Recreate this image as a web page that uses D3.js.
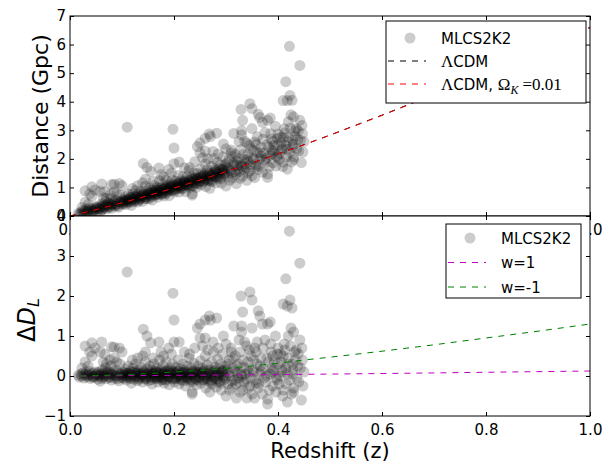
<!DOCTYPE html>
<html>
<head>
<meta charset="utf-8">
<script src="https://cdn.jsdelivr.net/npm/d3@7"></script>
<style>
  body { margin: 0; background: #fff; }
  svg text { font-family: "DejaVu Sans", sans-serif; fill: #000; }
</style>
</head>
<body>
<svg id="chart" width="611" height="462"></svg>
<script>
// supernovae: [redshift, distance (Gpc), residual vs LCDM (Gpc)]
const snData = [
  [0.016,0.09,0.02],[0.018,0.05,-0.03],[0.021,0.14,0.05],[0.023,0.10,0.00],[0.025,0.19,0.08],[0.027,0.07,-0.05],
  [0.029,0.16,0.03],[0.031,0.24,0.10],[0.033,0.13,-0.02],[0.035,0.20,0.04],[0.037,0.28,0.12],[0.039,0.11,-0.06],
  [0.041,0.20,0.02],[0.043,0.26,0.07],[0.045,0.16,-0.04],[0.047,0.21,0.00],[0.049,0.32,0.10],
  [0.023,0.30,0.20],[0.029,0.48,0.35],[0.029,0.88,0.75],[0.042,1.02,0.83],[0.048,0.91,0.70],[0.042,0.69,0.50],
  [0.035,0.41,0.25],[0.038,0.77,0.60],[0.058,0.86,0.60],[0.061,1.12,0.85],[0.067,0.85,0.55],[0.064,0.64,0.35],
  [0.080,1.10,0.73],[0.085,1.11,0.72],[0.095,1.14,0.70],[0.100,1.06,0.60],[0.077,0.75,0.40],[0.120,0.96,0.40],
  [0.130,1.06,0.45],[0.140,1.16,0.50],[0.145,1.29,0.60],[0.155,1.57,0.83],[0.148,1.70,1.00],[0.141,1.84,1.17],
  [0.171,1.68,0.85],[0.110,3.11,2.60],[0.198,3.04,2.07],[0.200,2.38,1.40],[0.200,1.83,0.85],[0.210,1.89,0.85],
  [0.190,1.63,0.70],[0.175,1.45,0.60],[0.070,0.62,0.30],[0.090,0.76,0.35],[0.085,0.84,0.45],
  [0.051,0.26,0.03],[0.053,0.16,-0.08],[0.055,0.35,0.10],[0.056,0.25,0.00],[0.058,0.13,-0.13],[0.060,0.32,0.05],
  [0.062,0.43,0.15],[0.063,0.25,-0.03],[0.065,0.37,0.08],[0.067,0.30,0.00],[0.068,0.51,0.20],[0.070,0.25,-0.07],
  [0.072,0.37,0.04],[0.074,0.46,0.12],[0.075,0.32,-0.02],[0.077,0.41,0.06],[0.079,0.61,0.25],[0.080,0.27,-0.10],
  [0.082,0.39,0.02],[0.084,0.48,0.10],[0.086,0.34,-0.05],[0.088,0.55,0.15],[0.090,0.41,0.00],[0.092,0.50,0.08],
  [0.094,0.31,-0.12],[0.096,0.74,0.30],[0.098,0.50,0.05],[0.099,0.42,-0.04],
  [0.101,0.57,0.10],[0.103,0.42,-0.06],[0.105,0.51,0.02],[0.107,0.68,0.18],[0.108,0.40,-0.10],[0.110,0.57,0.06],
  [0.112,0.77,0.25],[0.114,0.51,-0.02],[0.116,0.66,0.12],[0.118,0.37,-0.18],[0.120,0.60,0.04],[0.121,0.77,0.20],
  [0.123,0.50,-0.08],[0.125,0.69,0.10],[0.126,0.89,0.30],[0.128,0.60,0.00],[0.130,0.49,-0.12],[0.131,0.77,0.15],
  [0.133,0.68,0.05],[0.135,0.59,-0.05],[0.136,0.86,0.22],[0.138,0.73,0.08],[0.140,0.51,-0.15],[0.141,0.79,0.12],
  [0.143,0.68,0.00],[0.145,1.04,0.35],[0.146,0.61,-0.08],[0.148,0.88,0.18],[0.149,0.76,0.05],
  [0.151,0.60,-0.12],[0.152,0.82,0.10],[0.154,0.98,0.25],[0.155,0.71,-0.03],[0.157,0.90,0.15],[0.158,0.56,-0.20],
  [0.160,0.82,0.05],[0.161,1.07,0.30],[0.163,0.72,-0.06],[0.164,0.91,0.12],[0.166,0.80,0.00],[0.167,1.00,0.20],
  [0.169,0.66,-0.15],[0.170,0.90,0.08],[0.172,1.23,0.40],[0.173,0.82,-0.02],[0.175,1.00,0.15],[0.176,0.75,-0.10],
  [0.178,0.91,0.05],[0.179,1.12,0.25],[0.181,0.70,-0.18],[0.182,0.98,0.10],[0.184,0.89,0.00],[0.185,1.25,0.35],
  [0.187,0.83,-0.08],[0.188,1.06,0.14],[0.190,0.97,0.04],[0.191,0.71,-0.22],[0.193,1.14,0.20],[0.194,1.03,0.08],
  [0.196,0.91,-0.05],[0.197,1.26,0.30],[0.199,1.10,0.12],
  [0.201,0.84,-0.15],[0.202,1.04,0.05],[0.204,1.22,0.22],[0.205,0.96,-0.05],[0.207,1.14,0.12],[0.208,1.42,0.40],
  [0.210,0.84,-0.20],[0.211,1.06,0.02],[0.213,1.23,0.18],[0.214,0.96,-0.10],[0.216,1.15,0.08],[0.217,1.38,0.30],
  [0.219,1.06,-0.03],[0.220,1.24,0.15],[0.222,0.85,-0.25],[0.223,1.16,0.05],[0.225,1.37,0.25],[0.226,1.05,-0.08],
  [0.228,1.24,0.10],[0.229,1.59,0.45],[0.231,1.00,-0.15],[0.232,1.16,0.00],[0.234,1.37,0.20],[0.235,0.78,-0.40],
  [0.237,1.27,0.08],[0.238,1.51,0.32],[0.240,1.15,-0.05],[0.241,1.35,0.14],[0.243,1.00,-0.22],[0.244,1.28,0.05],
  [0.246,1.49,0.25],[0.247,1.14,-0.10],[0.249,1.35,0.10],
  [0.251,1.65,0.38],[0.252,1.09,-0.18],[0.254,1.30,0.02],[0.255,1.49,0.20],[0.257,1.22,-0.08],[0.258,1.43,0.12],
  [0.260,1.82,0.50],[0.261,1.03,-0.30],[0.263,1.39,0.05],[0.264,1.62,0.28],[0.266,1.23,-0.12],[0.267,1.51,0.15],
  [0.269,0.97,-0.40],[0.270,1.38,0.00],[0.272,1.74,0.35],[0.273,1.20,-0.20],[0.275,1.51,0.10],[0.276,2.01,0.60],
  [0.278,1.37,-0.05],[0.279,1.65,0.22],[0.281,1.16,-0.28],[0.282,1.53,0.08],[0.284,1.88,0.42],[0.285,1.32,-0.15],
  [0.287,1.66,0.18],[0.288,1.48,0.00],[0.290,1.79,0.30],[0.291,1.15,-0.35],[0.293,1.63,0.12],[0.294,2.07,0.55],
  [0.296,1.43,-0.10],[0.297,1.59,0.05],[0.299,1.80,0.25],
  [0.300,1.05,-0.50],[0.302,1.72,0.15],[0.304,1.38,-0.20],[0.306,1.99,0.40],[0.308,1.60,0.00],[0.310,2.31,0.70],
  [0.312,1.33,-0.30],[0.314,1.84,0.20],[0.316,1.55,-0.10],[0.318,2.16,0.50],[0.320,1.13,-0.55],[0.322,1.77,0.08],
  [0.324,2.00,0.30],[0.326,1.56,-0.15],[0.328,2.32,0.60],[0.330,1.74,0.00],[0.332,1.40,-0.35],[0.334,1.98,0.22],
  [0.336,2.62,0.85],[0.338,1.70,-0.08],[0.340,1.25,-0.55],[0.342,2.16,0.35],[0.344,1.92,0.10],[0.346,1.58,-0.25],
  [0.348,2.35,0.50],
  [0.350,1.41,-0.45],[0.352,2.02,0.15],[0.355,2.59,0.70],[0.357,1.80,-0.10],[0.360,2.22,0.30],[0.362,1.63,-0.30],
  [0.365,2.00,0.05],[0.367,2.41,0.45],[0.370,1.53,-0.45],[0.372,2.20,0.20],[0.375,2.92,0.90],[0.377,1.88,-0.15],
  [0.380,1.35,-0.70],[0.380,1.47,-0.58],[0.382,2.41,0.35],[0.385,2.13,0.05],[0.387,2.69,0.60],[0.390,1.86,-0.25],
  [0.392,2.27,0.15],[0.395,3.14,1.00],[0.397,2.10,-0.05],
  [0.400,2.47,0.30],[0.402,1.99,-0.20],[0.405,2.76,0.55],[0.408,2.32,0.10],[0.410,1.89,-0.35],[0.412,3.05,0.80],
  [0.415,2.47,0.20],[0.418,1.64,-0.65],[0.420,2.75,0.45],[0.422,2.22,-0.10],[0.425,3.54,1.20],[0.428,2.41,0.05],
  [0.430,2.07,-0.30],[0.430,1.97,-0.40],[0.432,2.98,0.60],[0.435,3.05,0.65],[0.438,2.67,0.25],[0.440,2.28,-0.15],
  [0.442,3.35,0.90],[0.445,1.87,-0.60],[0.447,2.88,0.40],[0.450,2.60,0.10],
  [0.422,5.94,3.62],[0.442,5.27,2.82],[0.415,4.70,2.43],[0.423,4.22,1.90],[0.410,4.04,1.80],[0.418,4.04,1.75],
  [0.427,4.05,1.70],[0.346,3.93,2.10],[0.329,3.73,2.00],[0.350,3.76,1.90],[0.332,3.35,1.60],[0.362,3.56,1.63],
  [0.365,3.45,1.50],[0.385,3.43,1.35],[0.380,3.35,1.30],[0.370,3.28,1.30],[0.350,3.06,1.20],[0.330,2.99,1.25],
  [0.315,2.89,1.25],[0.268,2.87,1.50],[0.270,2.78,1.40],[0.282,2.90,1.45],[0.260,2.72,1.40],[0.250,2.56,1.30],
  [0.245,2.43,1.20],[0.250,2.21,0.95],[0.260,2.27,0.95],[0.295,2.52,1.00],[0.330,2.84,1.10],[0.420,3.30,1.00],
  [0.430,3.47,1.10],[0.235,0.73,-0.45],[0.355,1.34,-0.55],
  [0.240,1.90,0.70],[0.255,2.04,0.75],[0.265,2.00,0.65],[0.275,2.26,0.85],[0.285,2.17,0.70],[0.300,2.35,0.80],
  [0.310,2.21,0.60],[0.325,2.61,0.90],[0.340,2.55,0.75],[0.360,2.77,0.85],[0.390,2.61,0.50],[0.400,2.87,0.70],
  [0.410,2.74,0.50],[0.220,1.69,0.60],[0.230,1.70,0.55],[0.180,1.37,0.50],[0.160,1.22,0.45],[0.195,1.50,0.55],
  [0.034,0.16,0.01],[0.044,0.18,-0.02],[0.052,0.29,0.06],[0.057,0.28,0.02],[0.061,0.21,-0.06],[0.066,0.33,0.03],
  [0.071,0.41,0.09],[0.076,0.31,-0.04],[0.081,0.42,0.05],[0.087,0.41,0.01],[0.091,0.35,-0.07],[0.097,0.49,0.04],
  [0.102,0.46,-0.01],[0.106,0.57,0.08],[0.111,0.47,-0.05],[0.115,0.57,0.03],[0.119,0.66,0.10],[0.124,0.55,-0.03],
  [0.127,0.66,0.06],[0.132,0.54,-0.08],[0.137,0.67,0.02],[0.142,0.76,0.09],[0.147,0.67,-0.03],[0.153,0.77,0.04],
  [0.156,0.66,-0.09],[0.159,0.83,0.07],[0.162,0.76,-0.02],[0.165,0.89,0.10],[0.168,0.75,-0.06],[0.171,0.85,0.02],
  [0.174,0.96,0.12],[0.177,0.82,-0.04],[0.180,0.93,0.06],[0.183,0.79,-0.10],[0.186,0.94,0.03],[0.189,1.01,0.09],
  [0.192,0.91,-0.03],[0.195,1.00,0.05],[0.198,0.89,-0.08],[0.203,1.08,0.08],[0.206,0.99,-0.02],[0.209,1.15,0.12],
  [0.212,0.99,-0.06],[0.215,1.10,0.04],[0.218,0.96,-0.12],[0.221,1.20,0.10],[0.224,1.11,0.00],[0.227,1.08,-0.05],
  [0.230,1.22,0.07],[0.233,1.07,-0.10],[0.236,1.30,0.12],[0.239,1.22,0.02],[0.242,1.14,-0.08],[0.245,1.31,0.08],
  [0.248,1.23,-0.02],[0.253,1.34,0.06],[0.256,1.20,-0.10],[0.259,1.46,0.15],[0.262,1.33,0.00],[0.265,1.29,-0.06],
  [0.268,1.47,0.10],[0.271,1.23,-0.15],[0.274,1.45,0.05],[0.277,1.40,-0.02],[0.280,1.59,0.15],[0.283,1.37,-0.08],
  [0.286,1.53,0.06],[0.289,1.37,-0.12],[0.292,1.61,0.10],[0.295,1.52,0.00],[0.298,1.49,-0.05],[0.305,1.66,0.08],
  [0.311,1.50,-0.12],[0.317,1.78,0.12],[0.323,1.64,-0.05],[0.329,1.78,0.05],[0.335,1.62,-0.15],[0.341,1.98,0.18],
  [0.347,1.79,-0.05],[0.353,1.98,0.10],[0.358,1.73,-0.18],[0.368,2.09,0.12],[0.378,2.03,0.00],[0.388,2.30,0.20],
  [0.398,2.06,-0.10],[0.408,2.37,0.15],[0.418,2.34,0.05],[0.428,2.66,0.30],
  [0.353,2.28,0.40],[0.358,2.51,0.60],[0.363,1.74,-0.20],[0.366,2.21,0.25],[0.371,2.69,0.70],[0.374,1.96,-0.05],
  [0.379,2.49,0.45],[0.383,1.72,-0.35],[0.386,2.88,0.80],[0.389,2.20,0.10],[0.393,2.48,0.35],[0.396,1.75,-0.40],
  [0.399,2.72,0.55],[0.403,2.19,0.00],[0.406,2.56,0.35],[0.409,1.73,-0.50],[0.413,2.91,0.65],[0.416,2.08,-0.20],
  [0.419,2.60,0.30],[0.424,3.08,0.75],[0.426,1.89,-0.45],[0.429,2.51,0.15],[0.433,2.79,0.40],[0.436,2.36,-0.05],
  [0.439,2.98,0.55],[0.443,2.65,0.20],[0.446,3.17,0.70],[0.448,2.24,-0.25],
  [0.303,1.87,0.30],[0.307,1.25,-0.35],[0.313,2.08,0.45],[0.319,1.47,-0.20],[0.321,1.93,0.25],[0.327,1.32,-0.40],
  [0.333,2.15,0.40],[0.337,1.83,0.05],[0.343,1.51,-0.30],[0.345,2.48,0.65],
  [0.104,0.53,0.05],[0.109,0.51,0.00],[0.113,0.60,0.07],[0.117,0.49,-0.06],[0.122,0.59,0.02],[0.129,0.69,0.08],
  [0.134,0.61,-0.02],[0.139,0.71,0.05],[0.144,0.62,-0.06],[0.150,0.78,0.07],[0.154,0.73,0.00],[0.163,0.84,0.06],
  [0.167,0.76,-0.04],[0.172,0.90,0.07],[0.178,0.78,-0.08],[0.184,1.01,0.12],[0.189,0.90,-0.02],[0.194,1.09,0.14],
  [0.202,0.92,-0.07],[0.207,1.07,0.05],[0.213,1.05,0.00],[0.219,1.18,0.09],[0.225,1.09,-0.03],[0.231,1.19,0.04],
  [0.237,1.05,-0.14],[0.243,1.32,0.10],[0.249,1.21,-0.04],[0.254,1.39,0.11],[0.260,1.27,-0.05],[0.266,1.41,0.06],
  [0.272,1.29,-0.10],[0.278,1.54,0.12],[0.284,1.48,0.02],[0.290,1.31,-0.18],[0.296,1.68,0.15]
];

// model luminosity distance (Gpc)
const modelZ     = [0, 0.05, 0.1, 0.15, 0.2, 0.25, 0.3, 0.35, 0.4, 0.45, 0.5, 0.6, 0.7, 0.8, 0.9, 1.0];
const lcdmDist   = [0, 0.222, 0.460, 0.713, 0.980, 1.260, 1.553, 1.857, 2.172, 2.498, 2.833, 3.530, 4.260, 5.018, 5.802, 6.608];
const lcdmOkDist = [0, 0.222, 0.460, 0.712, 0.979, 1.258, 1.551, 1.854, 2.168, 2.493, 2.827, 3.521, 4.247, 5.000, 5.779, 6.579];

// residual curves for w models
const wZ        = [0.02, 0.05, 0.1, 0.15, 0.2, 0.25, 0.3, 0.35, 0.4, 0.45, 0.5, 0.6, 0.7, 0.8, 0.9, 1.0];
const wPlusOne  = [0, 0.003, 0.008, 0.012, 0.017, 0.021, 0.026, 0.031, 0.036, 0.042, 0.048, 0.062, 0.077, 0.093, 0.109, 0.125];
const wMinusOne = [0, 0.01, 0.03, 0.06, 0.10, 0.14, 0.19, 0.25, 0.32, 0.40, 0.47, 0.62, 0.78, 0.95, 1.12, 1.30];

const zTicks     = [0, 0.2, 0.4, 0.6, 0.8, 1.0];
const distTicks  = [0, 1, 2, 3, 4, 5, 6, 7];
const residTicks = [-1, 0, 1, 2, 3, 4];

const SERIF = "'Liberation Serif', 'DejaVu Serif', serif";

class Panel {

  constructor(svg, id, box, yDomain) {
    this.svg = svg;
    this.box = box;
    this.x = d3.scaleLinear().domain([0, 1]).range([box.left, box.right]);
    this.y = d3.scaleLinear().domain(yDomain).range([box.bottom, box.top]);
    this.g = svg.append("g");

    this.g.append("rect")
      .attr("x", box.left).attr("y", box.top)
      .attr("width", box.right - box.left).attr("height", box.bottom - box.top)
      .attr("fill", "#fff");

    svg.append("defs").append("clipPath").attr("id", id)
      .append("rect")
      .attr("x", box.left).attr("y", box.top)
      .attr("width", box.right - box.left).attr("height", box.bottom - box.top);

    this.plot = this.g.append("g").attr("clip-path", `url(#${id})`);
  }

  axes(yTicks) {
    const b = this.box;
    const fmtX = d3.format(".1f");
    const fmtY = d => d < 0 ? "\u2212" + Math.abs(d) : "" + d;

    const styleAxis = sel => {
      sel.select(".domain").remove();
      sel.selectAll("line").attr("stroke", "#000");
      sel.selectAll("text").attr("font-size", 15).attr("font-family", "DejaVu Sans");
    };

    this.g.append("g").attr("transform", `translate(0,${b.bottom})`)
      .call(d3.axisBottom(this.x).tickValues(zTicks).tickFormat(fmtX)
        .tickSizeInner(-4).tickSizeOuter(0).tickPadding(8))
      .call(styleAxis);
    this.g.append("g").attr("transform", `translate(0,${b.top})`)
      .call(d3.axisTop(this.x).tickValues(zTicks).tickFormat("")
        .tickSizeInner(-4).tickSizeOuter(0))
      .call(styleAxis);
    this.g.append("g").attr("transform", `translate(${b.left},0)`)
      .call(d3.axisLeft(this.y).tickValues(yTicks).tickFormat(fmtY)
        .tickSizeInner(-4).tickSizeOuter(0).tickPadding(4))
      .call(styleAxis);
    this.g.append("g").attr("transform", `translate(${b.right},0)`)
      .call(d3.axisRight(this.y).tickValues(yTicks).tickFormat("")
        .tickSizeInner(-4).tickSizeOuter(0))
      .call(styleAxis);
  }

  scatter(data, yIndex) {
    this.plot.append("g").selectAll("circle")
      .data(data)
      .join("circle")
      .attr("cx", d => this.x(d[0]))
      .attr("cy", d => this.y(d[yIndex]))
      .attr("r", 5.5)
      .attr("fill", "#000")
      .attr("fill-opacity", 0.2);
  }

  dashed(xs, ys, color) {
    const line = d3.line()
      .x(d => this.x(d[0]))
      .y(d => this.y(d[1]));
    this.plot.append("path")
      .datum(xs.map((v, i) => [v, ys[i]]))
      .attr("d", line)
      .attr("fill", "none")
      .attr("stroke", color)
      .attr("stroke-width", 1)
      .attr("stroke-dasharray", "6,6");
  }

  frame() {
    const b = this.box;
    this.g.append("rect")
      .attr("x", b.left).attr("y", b.top)
      .attr("width", b.right - b.left).attr("height", b.bottom - b.top)
      .attr("fill", "none").attr("stroke", "#000").attr("stroke-width", 1);
  }

  legend(lb, rows) {
    const lg = this.g.append("g");
    lg.append("rect")
      .attr("x", lb.x).attr("y", lb.y).attr("width", lb.w).attr("height", lb.h)
      .attr("fill", "#fff").attr("stroke", "#000").attr("stroke-width", 1);

    rows.forEach((r, i) => {
      const cy = lb.y + lb.first + i * lb.step;
      if (r.marker) {
        lg.append("circle")
          .attr("cx", lb.x + 24).attr("cy", cy).attr("r", 5.5)
          .attr("fill", "#000").attr("fill-opacity", 0.2);
      } else {
        lg.append("line")
          .attr("x1", lb.x + 2).attr("x2", lb.x + 40)
          .attr("y1", cy).attr("y2", cy)
          .attr("stroke", r.color).attr("stroke-dasharray", "6,6");
      }
      const t = lg.append("text")
        .attr("x", lb.x + 55).attr("y", cy + 5.5)
        .attr("font-size", 15);
      r.parts.forEach(p => {
        const s = t.append("tspan").text(p.text);
        if (p.serif) s.attr("font-family", SERIF).attr("font-size", 17);
        if (p.italic) s.attr("font-style", "italic");
        if (p.sub) s.attr("font-size", 12).attr("dy", 4);
        if (p.unsub) s.attr("dy", -4);
        if (p.dx) s.attr("dx", p.dx);
      });
    });
  }
}

const svg = d3.select("#chart");
svg.append("rect").attr("width", 611).attr("height", 462).attr("fill", "#fff");

// top panel: distance vs redshift
const topPanel = new Panel(svg, "clipTop", {left: 70, right: 590, top: 16, bottom: 216}, [0, 7]);
topPanel.scatter(snData, 1);
topPanel.dashed(modelZ, lcdmDist, "#000");
topPanel.dashed(modelZ, lcdmOkDist, "#ff0000");
topPanel.axes(distTicks);
topPanel.frame();
topPanel.legend({x: 386, y: 21, w: 200, h: 82, first: 17, step: 23}, [
  {marker: true, parts: [{text: "MLCS2K2"}]},
  {color: "#000", parts: [{text: "\u039B", serif: true}, {text: "CDM"}]},
  {color: "#ff0000", parts: [
    {text: "\u039B", serif: true}, {text: "CDM, "},
    {text: "\u03A9", serif: true}, {text: "K", serif: true, italic: true, sub: true},
    {text: "=0.01", serif: true, unsub: true, dx: 4}
  ]}
]);

svg.append("text")
  .attr("transform", "translate(48,116) rotate(-90)")
  .attr("text-anchor", "middle")
  .attr("font-size", 22)
  .text("Distance (Gpc)");

// bottom panel: residuals
const bottomPanel = new Panel(svg, "clipBottom", {left: 70, right: 590, top: 216, bottom: 416}, [-1, 4]);
bottomPanel.scatter(snData, 2);
bottomPanel.dashed(wZ, wPlusOne, "#bf00bf");
bottomPanel.dashed(wZ, wMinusOne, "#008000");
bottomPanel.axes(residTicks);
bottomPanel.frame();
bottomPanel.legend({x: 446, y: 224, w: 135, h: 74, first: 14, step: 24.5}, [
  {marker: true, parts: [{text: "MLCS2K2"}]},
  {color: "#bf00bf", parts: [{text: "w=1"}]},
  {color: "#008000", parts: [{text: "w=-1"}]}
]);

const dl = svg.append("text")
  .attr("transform", "translate(35,320) rotate(-90)")
  .attr("text-anchor", "middle")
  .attr("font-family", SERIF)
  .attr("font-size", 24);
dl.append("tspan").text("\u0394");
dl.append("tspan").attr("font-style", "italic").text("D");
dl.append("tspan").attr("font-style", "italic").attr("font-size", 16).attr("dy", 4).text("L");

svg.append("text")
  .attr("x", 330).attr("y", 458)
  .attr("text-anchor", "middle")
  .attr("font-size", 21)
  .text("Redshift (z)");
</script>
</body>
</html>
